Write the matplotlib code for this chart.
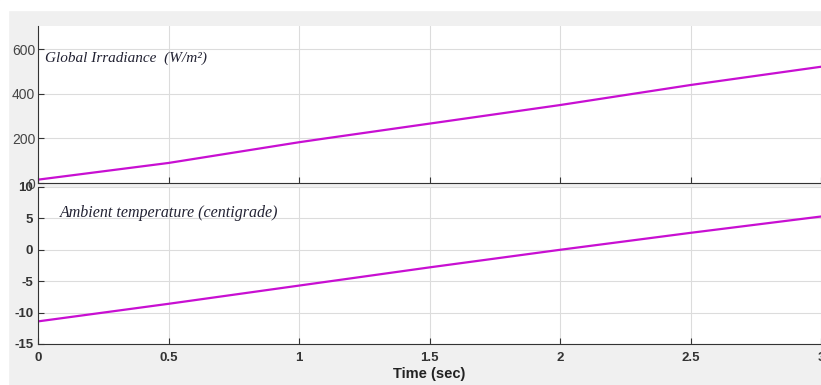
import numpy as np
import matplotlib.pyplot as plt
from matplotlib.patches import Rectangle

plt.rcParams['font.family'] = ['Liberation Sans', 'DejaVu Sans']
plt.rcParams['axes.unicode_minus'] = False

# irradiance (W/m^2) and ambient temperature vs time
t_irr = [0.0, 0.5, 1.0, 1.1, 2.0, 2.5, 3.0]
irr = [15, 90, 183, 200, 350, 440, 522]
t_tmp = [0.0, 0.5, 1.0, 1.5, 2.0, 2.5, 3.0]
tmp = [-11.4, -8.6, -5.7, -2.8, 0.0, 2.7, 5.3]

x_ticks = [0, 0.5, 1, 1.5, 2, 2.5, 3]
x_ticklabels = ["0", "0.5", "1", "1.5", "2", "2.5", "3"]

W, H = 821, 385
fig = plt.figure(figsize=(W / 100, H / 100), dpi=100, facecolor="#f0f0f0")
# white screenshot margins
fig.add_artist(Rectangle((0, 1 - 10 / H), 1, 10 / H, transform=fig.transFigure,
                         color="white", zorder=-1))
fig.add_artist(Rectangle((0, 0), 8 / W, 1, transform=fig.transFigure,
                         color="white", zorder=-1))

left = 38 / W
ax1 = fig.add_axes([left, 1 - 183 / H, 1 - left, (183 - 26) / H])
ax2 = fig.add_axes([left, 1 - 344 / H, 1 - left, (344 - 187) / H])

line_c = "#c80fd2"
for ax in (ax1, ax2):
    ax.set_facecolor("white")
    ax.grid(True, color="#dcdcdc", lw=0.8)
    ax.set_xlim(0, 2.99)
    ax.set_xticks(x_ticks)
    for s in ("top", "right"):
        ax.spines[s].set_visible(False)
    ax.spines["left"].set_color("#333333")
    ax.spines["bottom"].set_color("#333333")
    ax.tick_params(direction="in", length=4, color="#333333")

ax1.plot(t_irr, irr, color=line_c, lw=1.6)
ax1.set_ylim(0, 705)
ax1.set_yticks([0, 200, 400, 600])
ax1.set_xticklabels([])
ax1.tick_params(axis="y", labelsize=10, labelcolor="#444444", pad=2)
ax1.text(0.009, 0.77, "Global Irradiance  (W/m²)", transform=ax1.transAxes,
         family="Liberation Serif", style="italic", fontsize=11, color="#222233")

ax2.plot(t_tmp, tmp, color=line_c, lw=1.6)
ax2.set_ylim(-15, 10)
ax2.set_yticks([-15, -10, -5, 0, 5, 10])
ax2.set_xticklabels(x_ticklabels)
ax2.tick_params(axis="both", labelsize=9.5, labelcolor="#333333")
ax2.tick_params(axis="x", pad=6)
for lbl in ax2.get_xticklabels() + ax2.get_yticklabels():
    lbl.set_fontweight("bold")
ax2.text(0.028, 0.81, "Ambient temperature (centigrade)", transform=ax2.transAxes,
         family="Liberation Serif", style="italic", fontsize=11.5, color="#222233")
ax2.set_xlabel("Time (sec)", fontsize=10.5, fontweight="bold", color="#222222", labelpad=2)

fig.savefig("out.png", dpi=100, facecolor=fig.get_facecolor())
